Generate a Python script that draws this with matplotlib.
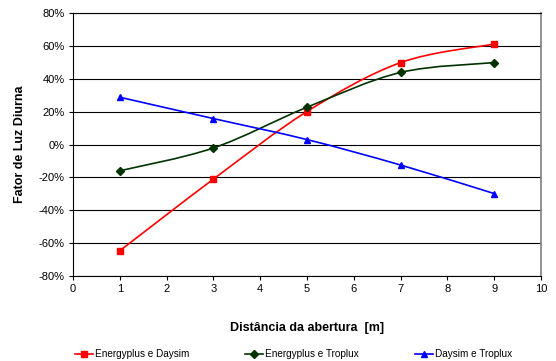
import numpy as np
import matplotlib.pyplot as plt
from matplotlib.path import Path
from matplotlib.patches import PathPatch
from matplotlib.lines import Line2D
from matplotlib.ticker import FuncFormatter

plt.rcParams['font.family'] = ['Liberation Sans', 'DejaVu Sans']

# Data
distance = [1, 3, 5, 7, 9]
ep_daysim = [-64.6, -21.0, 20.2, 50.0, 61.3]
ep_troplux = [-15.9, -2.0, 22.8, 44.0, 50.0]
daysim_troplux = [28.9, 15.9, 3.1, -12.4, -29.8]

series = [
    ("Energyplus e Daysim", ep_daysim, "#ff0000", "s", 5),
    ("Energyplus e Troplux", ep_troplux, "#003300", "D", 4),
    ("Daysim e Troplux", daysim_troplux, "#0000ff", "^", 5),
]


def smooth_path(xs, ys):
    # Catmull-Rom style cubic Bezier through the points (like Excel smoothed lines)
    pts = np.column_stack([xs, ys]).astype(float)
    verts = [pts[0]]
    codes = [Path.MOVETO]
    n = len(pts)
    for i in range(n - 1):
        p0 = pts[i - 1] if i > 0 else pts[i]
        p1 = pts[i]
        p2 = pts[i + 1]
        p3 = pts[i + 2] if i + 2 < n else pts[i + 1]
        c1 = p1 + (p2 - p0) / 6.0
        c2 = p2 - (p3 - p1) / 6.0
        verts += [c1, c2, p2]
        codes += [Path.CURVE4] * 3
    return Path(verts, codes)


fig = plt.figure(figsize=(5.56, 3.61), dpi=100)
ax = fig.add_axes([0.1313, 0.2355, 0.8417, 0.7275])

for name, vals, color, marker, ms in series:
    ax.add_patch(PathPatch(smooth_path(distance, vals), facecolor='none',
                           edgecolor=color, lw=1.2, zorder=3))
    ax.plot(distance, vals, linestyle='none', marker=marker, color=color,
            markersize=ms, zorder=4)

ax.set_xlim(0, 10)
ax.set_ylim(-80, 80)
ax.set_xticks(range(0, 11))
ax.set_yticks(range(-80, 81, 20))
ax.yaxis.set_major_formatter(FuncFormatter(lambda v, p: f"{int(v)}%"))
ax.grid(axis='y', color='black', lw=0.8)
ax.set_axisbelow(True)
ax.tick_params(labelsize=8, length=3, width=0.8, color='black', pad=3)
for s in ['left', 'bottom', 'top']:
    ax.spines[s].set_color('black')
ax.spines['right'].set_color('#808080')
ax.spines['right'].set_linewidth(1.2)

ax.set_ylabel("Fator de Luz Diurna", fontsize=9, fontweight='bold', labelpad=9)
ax.set_xlabel("Distância da abertura  [m]", fontsize=9, fontweight='bold', labelpad=20)

handles = [Line2D([0], [0], color=c, marker=m, markersize=ms, lw=1.2)
           for _, _, c, m, ms in series]
fig.legend(handles, [s[0] for s in series], loc='lower center', ncol=3,
           frameon=False, fontsize=7.2, bbox_to_anchor=(0.528, -0.02),
           handlelength=1.8, handletextpad=0.2, columnspacing=5.6)

fig.savefig("out.png", dpi=100)
